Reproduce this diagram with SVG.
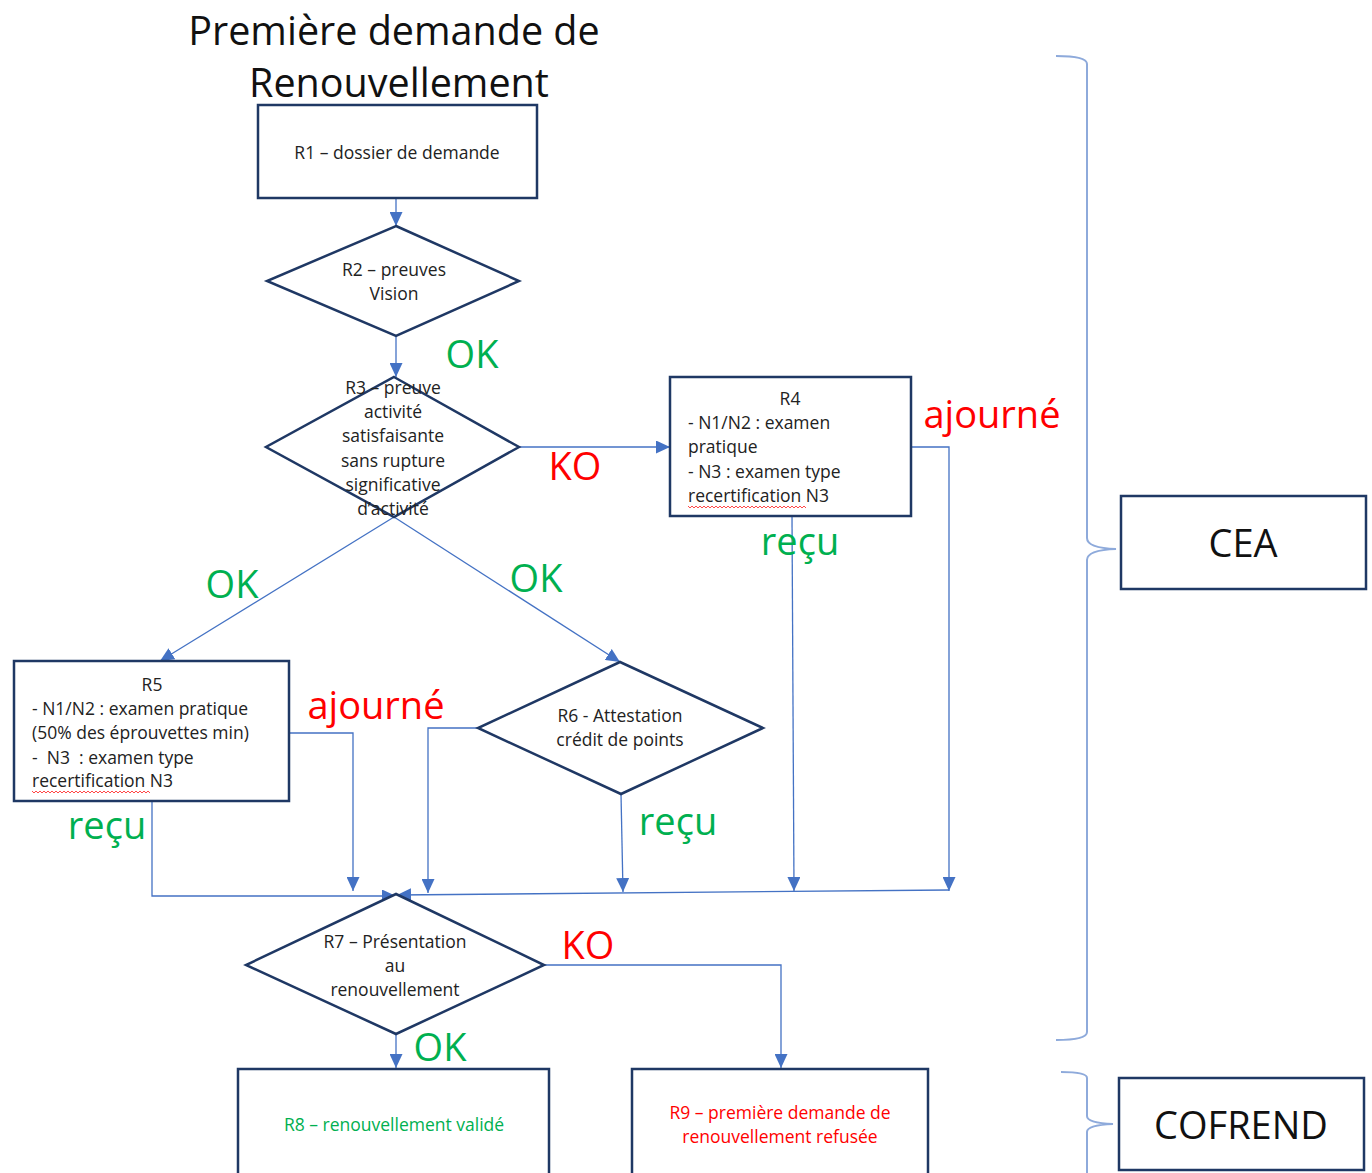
<svg xmlns="http://www.w3.org/2000/svg" width="1372" height="1173" viewBox="0 0 1372 1173">
<style>
  .box{fill:#fff;stroke:#1f3864;stroke-width:2.5}
  .t{font-family:"Open Sans","Liberation Sans",sans-serif;font-size:17.5px;fill:#222}
  .c{text-anchor:middle}
  .big{font-family:"Open Sans","Liberation Sans",sans-serif;font-size:38px}
  .ttl{font-size:39.5px}
  .g{fill:#00b050}
  .r{fill:#ff0000}
  .con{fill:none;stroke:#4472c4;stroke-width:1.3}
  .brace{fill:none;stroke:#8eaadb;stroke-width:2}
  .sq{fill:none;stroke:#ff3333;stroke-width:0.9}
</style>
<defs>
  <marker id="arr" markerWidth="14" markerHeight="13" refX="14" refY="6.5" orient="auto" markerUnits="userSpaceOnUse">
    <path d="M0,0 L14,6.5 L0,13 z" fill="#4472c4"/>
  </marker>
</defs>
<rect width="1372" height="1173" fill="#fff"/>

<g id="title">
  <text class="big ttl c" x="394" y="45" fill="#111">Première demande de</text>
  <text class="big ttl c" x="399" y="97" fill="#111">Renouvellement</text>
</g>

<g id="connectors">
  <path class="con" marker-end="url(#arr)" d="M396,198 V226"/>
  <path class="con" marker-end="url(#arr)" d="M396,336 V377"/>
  <path class="con" marker-end="url(#arr)" d="M519,447 H670"/>
  <path class="con" marker-end="url(#arr)" d="M394,517 L160,661"/>
  <path class="con" marker-end="url(#arr)" d="M394,517 L620,662"/>
  <path class="con" marker-end="url(#arr)" d="M911,447 H949 V891"/>
  <path class="con" marker-end="url(#arr)" d="M792,516 L794,891"/>
  <path class="con" marker-end="url(#arr)" d="M289,733 H353 V891"/>
  <path class="con" marker-end="url(#arr)" d="M152,801 V896 H396"/>
  <path class="con" marker-end="url(#arr)" d="M478,728 H428 V893"/>
  <path class="con" marker-end="url(#arr)" d="M621,794 L623,892"/>
  <path class="con" marker-end="url(#arr)" d="M949,890 L397,895"/>
  <path class="con" marker-end="url(#arr)" d="M544,965 H781 V1068"/>
  <path class="con" marker-end="url(#arr)" d="M396,1034 V1068"/>
</g>

<g id="labels">
  <text class="big g c" x="472" y="368">OK</text>
  <text class="big r c" x="575" y="480">KO</text>
  <text class="big r c" x="992" y="428">ajourné</text>
  <text class="big g c" x="800" y="555">reçu</text>
  <text class="big g c" x="232" y="598">OK</text>
  <text class="big g c" x="536" y="592">OK</text>
  <text class="big r c" x="376" y="719">ajourné</text>
  <text class="big g c" x="107" y="839">reçu</text>
  <text class="big g c" x="678" y="835">reçu</text>
  <text class="big r c" x="588" y="959">KO</text>
  <text class="big g c" x="440" y="1061">OK</text>
</g>

<g id="R1">
  <rect class="box" x="258" y="105" width="279" height="93"/>
  <text class="t c" x="397" y="159">R1 – dossier de demande</text>
</g>

<g id="R2">
  <polygon class="box" points="396,226 519,281 396,336 267,281"/>
  <text class="t c" x="394" y="276">R2 – preuves</text>
  <text class="t c" x="394" y="300">Vision</text>
</g>

<g id="R3">
  <polygon class="box" points="394,377 519,447 394,517 266,447"/>
  <text class="t c" x="393" y="394">R3 – preuve</text>
  <text class="t c" x="393" y="418">activité</text>
  <text class="t c" x="393" y="442">satisfaisante</text>
  <text class="t c" x="393" y="467">sans rupture</text>
  <text class="t c" x="393" y="491">significative</text>
  <text class="t c" x="393" y="515">d’activité</text>
</g>

<g id="R4">
  <rect class="box" x="670" y="377" width="241" height="139"/>
  <text class="t c" x="790" y="405">R4</text>
  <text class="t" x="688" y="429">- N1/N2 : examen</text>
  <text class="t" x="688" y="453">pratique</text>
  <text class="t" x="688" y="478">- N3 : examen type</text>
  <text class="t" x="688" y="502">recertification N3</text>
  <path class="sq" d="M688,506 l2,2 l2,-2 l2,2 l2,-2 l2,2 l2,-2 l2,2 l2,-2 l2,2 l2,-2 l2,2 l2,-2 l2,2 l2,-2 l2,2 l2,-2 l2,2 l2,-2 l2,2 l2,-2 l2,2 l2,-2 l2,2 l2,-2 l2,2 l2,-2 l2,2 l2,-2 l2,2 l2,-2 l2,2 l2,-2 l2,2 l2,-2 l2,2 l2,-2 l2,2 l2,-2 l2,2 l2,-2 l2,2 l2,-2 l2,2 l2,-2 l2,2 l2,-2 l2,2 l2,-2 l2,2 l2,-2 l2,2 l2,-2 l2,2 l2,-2 l2,2 l2,-2 l2,2 l2,-2 l2,2"/>
</g>

<g id="R5">
  <rect class="box" x="14" y="661" width="275" height="140"/>
  <text class="t c" x="152" y="691">R5</text>
  <text class="t" x="32" y="715">- N1/N2 : examen pratique</text>
  <text class="t" x="32" y="739">(50% des éprouvettes min)</text>
  <text class="t" x="32" y="764" xml:space="preserve">-  N3  : examen type</text>
  <text class="t" x="32" y="787">recertification N3</text>
  <path class="sq" d="M32,791 l2,2 l2,-2 l2,2 l2,-2 l2,2 l2,-2 l2,2 l2,-2 l2,2 l2,-2 l2,2 l2,-2 l2,2 l2,-2 l2,2 l2,-2 l2,2 l2,-2 l2,2 l2,-2 l2,2 l2,-2 l2,2 l2,-2 l2,2 l2,-2 l2,2 l2,-2 l2,2 l2,-2 l2,2 l2,-2 l2,2 l2,-2 l2,2 l2,-2 l2,2 l2,-2 l2,2 l2,-2 l2,2 l2,-2 l2,2 l2,-2 l2,2 l2,-2 l2,2 l2,-2 l2,2 l2,-2 l2,2 l2,-2 l2,2 l2,-2 l2,2 l2,-2 l2,2 l2,-2 l2,2"/>
</g>

<g id="R6">
  <polygon class="box" points="620,662 763,728 621,794 478,728"/>
  <text class="t c" x="620" y="722">R6 - Attestation</text>
  <text class="t c" x="620" y="746">crédit de points</text>
</g>

<g id="R7">
  <polygon class="box" points="396,894 544,965 396,1034 246,965"/>
  <text class="t c" x="395" y="948">R7 – Présentation</text>
  <text class="t c" x="395" y="972">au</text>
  <text class="t c" x="395" y="996">renouvellement</text>
</g>

<g id="R8">
  <rect class="box" x="238" y="1069" width="311" height="110"/>
  <text class="t c g" x="394" y="1131">R8 – renouvellement validé</text>
</g>

<g id="R9">
  <rect class="box" x="632" y="1069" width="296" height="110"/>
  <text class="t c r" x="780" y="1119">R9 – première demande de</text>
  <text class="t c r" x="780" y="1143">renouvellement refusée</text>
</g>

<g id="braces">
  <path class="brace" d="M1056,56 Q1087,56 1087,64 V538 Q1087,548 1116,549 Q1087,550 1087,560 V1032 Q1087,1040 1056,1040"/>
  <path class="brace" d="M1061,1072 Q1087,1072 1087,1078 V1116 Q1087,1123 1113,1124 Q1087,1125 1087,1132 V1173"/>
</g>

<g id="CEA">
  <rect class="box" x="1121" y="496" width="245" height="93"/>
  <text class="big c" x="1243" y="557" fill="#111">CEA</text>
</g>

<g id="COFREND">
  <rect class="box" x="1119" y="1078" width="245" height="92"/>
  <text class="big c" x="1241" y="1139" fill="#111">COFREND</text>
</g>
</svg>
